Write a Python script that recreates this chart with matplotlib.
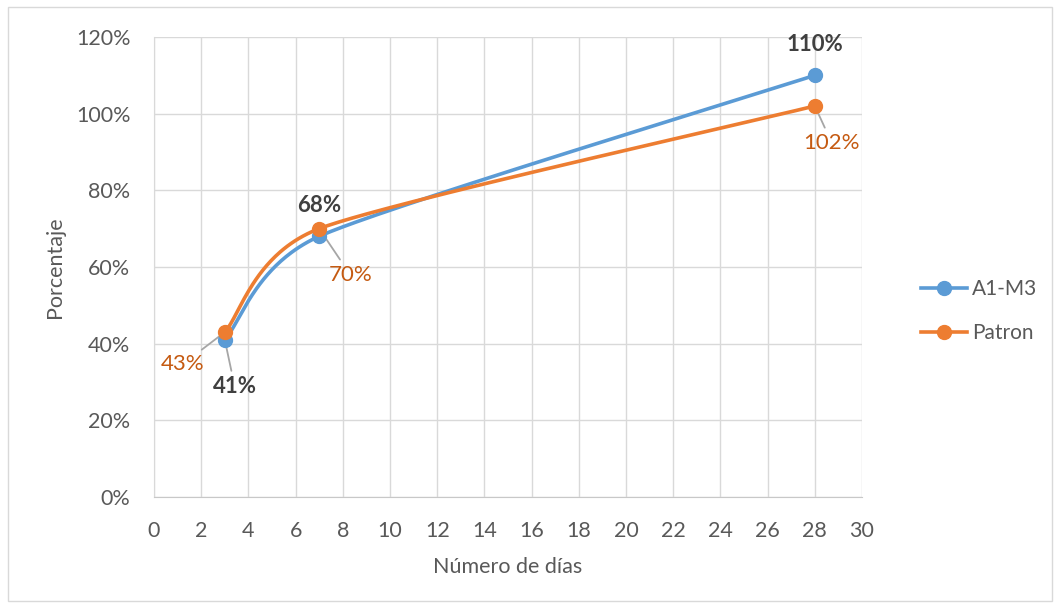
import numpy as np
import matplotlib
matplotlib.use("Agg")
import matplotlib.pyplot as plt
from matplotlib.patches import Rectangle

# datos del ensayo
dias = [3, 7, 28]
a1_m3 = [41, 68, 110]
patron = [43, 70, 102]
series = ["A1-M3", "Patron"]

AZUL = "#5B9BD5"
NARANJA = "#ED7D31"
GRIS_TXT = "#595959"
GRID = "#D9D9D9"

plt.rcParams["font.family"] = ["Lato", "DejaVu Sans"]


def suavizar(ax, x, y, n=80):
    # linea suavizada estilo Excel: Bezier cubica calculada en pixeles,
    # tangente (P[i+1]-P[i-1]) con factor 1/6 limitado por la longitud de los tramos
    P = ax.transData.transform(np.column_stack([x, y]).astype(float))
    m = len(P)
    cant, cdes = [None] * m, [None] * m
    for i in range(1, m - 1):
        d01 = np.linalg.norm(P[i] - P[i - 1])
        d12 = np.linalg.norm(P[i + 1] - P[i])
        d02 = np.linalg.norm(P[i + 1] - P[i - 1])
        f = min(1 / 6, d01 / (2 * d02), d12 / (2 * d02))
        cant[i] = P[i] - f * (P[i + 1] - P[i - 1])
        cdes[i] = P[i] + f * (P[i + 1] - P[i - 1])
    cdes[0] = P[0] + (P[1] - P[0]) / 6
    cant[m - 1] = P[m - 1] - (P[m - 1] - P[m - 2]) / 6
    t = np.linspace(0, 1, n)[:, None]
    tramos = []
    for i in range(m - 1):
        b = (1 - t) ** 3 * P[i] + 3 * (1 - t) ** 2 * t * cdes[i] \
            + 3 * (1 - t) * t ** 2 * cant[i + 1] + t ** 3 * P[i + 1]
        tramos.append(b)
    d = ax.transData.inverted().transform(np.vstack(tramos))
    return d[:, 0], d[:, 1]


fig = plt.figure(figsize=(10.59, 6.06), dpi=100)
ax = fig.add_axes([0.1454, 0.1799, 0.6686, 0.7591])
ax.set_xlim(0, 30)
ax.set_ylim(0, 120)

for vals, col, nom in [(a1_m3, AZUL, series[0]), (patron, NARANJA, series[1])]:
    sx, sy = suavizar(ax, dias, vals)
    ax.plot(sx, sy, color=col, lw=2.6, solid_capstyle="round", zorder=3)
    ax.plot(dias, vals, "o", color=col, ms=10, zorder=4)
    ax.plot([], [], color=col, lw=2.6, marker="o", ms=10, label=nom)

ax.set_xticks(range(0, 31, 2))
ax.set_yticks(range(0, 121, 20))
ax.set_yticklabels([f"{v}%" for v in range(0, 121, 20)])
ax.grid(True, color=GRID, lw=1.0)
ax.set_axisbelow(True)
for s in ["top", "right"]:
    ax.spines[s].set_visible(False)
ax.spines["left"].set_color(GRID)
ax.spines["bottom"].set_color("#C8C8C8")
ax.tick_params(length=0, labelsize=15.5, colors=GRIS_TXT)
ax.tick_params(axis="x", pad=17)
ax.tick_params(axis="y", pad=17)
ax.set_xlabel("Número de días", fontsize=15.5, color=GRIS_TXT)
ax.set_ylabel("Porcentaje", fontsize=15.5, color=GRIS_TXT)
ax.xaxis.set_label_coords(0.5, -0.13)
ax.yaxis.set_label_coords(-0.126, 0.5)

# etiquetas de datos
lider = dict(arrowstyle="-", color="#A6A6A6", lw=1.3, shrinkA=2, shrinkB=0)
kw_a = dict(fontsize=16, fontweight="bold", color="#404040", ha="center", va="center",
            textcoords="offset pixels")
kw_p = dict(fontsize=16, color="#C55A11", ha="center", va="center",
            textcoords="offset pixels")

ax.annotate(f"{a1_m3[0]}%", (dias[0], a1_m3[0]), xytext=(10, -47), arrowprops=lider,
            **kw_a)
ax.annotate(f"{a1_m3[1]}%", (dias[1], a1_m3[1]), xytext=(0, 31), **kw_a)
ax.annotate(f"{a1_m3[2]}%", (dias[2], a1_m3[2]), xytext=(0, 31), **kw_a)

ax.annotate(f"{patron[0]}%", (dias[0], patron[0]), xytext=(-42, -32), arrowprops=lider,
            **kw_p)
ax.annotate(f"{patron[1]}%", (dias[1], patron[1]), xytext=(31, -46), arrowprops=lider,
            **kw_p)
ax.annotate(f"{patron[2]}%", (dias[2], patron[2]), xytext=(17, -37), arrowprops=lider,
            **kw_p)

leg = fig.legend(loc="center left", bbox_to_anchor=(0.852, 0.487), frameon=False,
                 fontsize=15, handlelength=2.2, labelspacing=1.15, handletextpad=0.25)
for txt in leg.get_texts():
    txt.set_color(GRIS_TXT)

fig.patches.append(Rectangle((0.0075, 0.008), 0.986, 0.981, transform=fig.transFigure,
                             fill=False, edgecolor=GRID, lw=1.0))

fig.savefig("out.png", dpi=100)
